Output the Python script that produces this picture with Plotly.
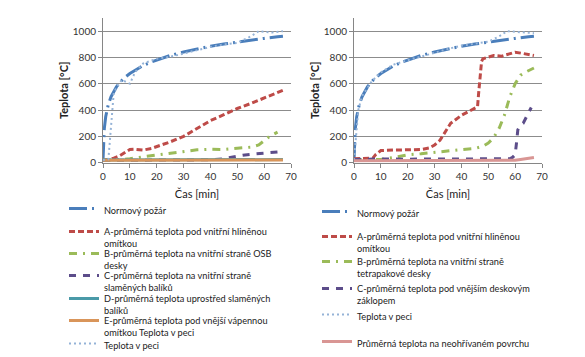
import plotly.graph_objects as go

# ---------------- data ----------------
t_norm = [0, 0.5, 1, 1.5, 2, 3, 4, 5, 6, 8, 10, 12, 15, 18, 20, 25, 30, 35, 40, 45, 50, 55, 60, 65, 67]
norm = [20, 261, 349, 400, 445, 502, 544, 576, 603, 646, 678, 705, 739, 766, 781, 815, 842, 865, 885, 902, 918, 932, 945, 957, 961]

# left chart
tL_peci = [0, 1, 2, 2.5, 3, 3.5, 4, 5, 7, 10, 12, 15, 20, 25, 30, 35, 40, 45, 50, 55, 58, 60, 63, 67]
L_peci = [20, 22, 25, 150, 300, 420, 530, 570, 630, 600, 690, 755, 790, 805, 830, 860, 880, 900, 910, 960, 1000, 995, 990, 1000]
tL_A = [0, 2, 4, 6, 8, 10, 12, 15, 18, 20, 25, 30, 35, 40, 45, 50, 55, 60, 65, 67]
L_A = [20, 22, 35, 50, 75, 100, 102, 96, 108, 122, 158, 200, 262, 320, 365, 412, 450, 490, 535, 550]
tL_B = [0, 5, 10, 12, 15, 20, 25, 30, 35, 40, 45, 50, 55, 58, 60, 62, 65]
L_B = [20, 22, 30, 38, 45, 59, 72, 90, 98, 102, 100, 110, 118, 135, 170, 200, 232]
tL_C = [0, 10, 20, 30, 40, 45, 48, 52, 56, 60, 65, 67]
L_C = [18, 18, 18, 19, 22, 30, 42, 57, 66, 74, 82, 82]
tL_D = [0, 10, 20, 30, 40, 50, 60, 67]
L_D = [20, 20, 20, 21, 22, 22, 23, 24]
tL_E = [0, 10, 20, 30, 40, 50, 60, 67]
L_E = [18, 18, 18, 18, 19, 19, 20, 20]

# right chart
tR_peci = [0, 0.4, 1, 1.6, 2.9, 4.7, 6.6, 9.7, 14.6, 20.8, 25, 30, 35, 40, 45, 50, 54, 57, 60, 63, 67]
R_peci = [20, 122, 280, 400, 504, 555, 618, 682, 745, 784, 805, 835, 865, 890, 905, 920, 960, 1000, 995, 990, 985]
tR_A = [0, 2, 5, 7, 8, 10, 15, 20, 25, 28, 30, 32, 34, 36, 40, 43, 45, 46, 46.5, 47, 47.5, 48, 50, 52, 55, 58, 60, 63, 65, 67]
R_A = [30, 30, 32, 35, 60, 92, 96, 98, 100, 112, 135, 170, 230, 300, 360, 395, 415, 425, 550, 700, 770, 790, 805, 815, 810, 830, 840, 830, 825, 815]
tR_B = [0, 5, 10, 15, 20, 25, 30, 35, 40, 45, 48, 50, 52, 54, 56, 58, 59, 60, 62, 64, 67]
R_B = [20, 20, 25, 40, 60, 68, 80, 88, 100, 108, 125, 150, 190, 260, 360, 500, 550, 600, 665, 690, 720]
tR_C = [0, 5, 10, 20, 30, 40, 50, 55, 58, 59, 60, 60.5, 61, 62, 63, 65, 66]
R_C = [25, 28, 28, 27, 28, 27, 27, 28, 30, 40, 60, 150, 250, 285, 300, 380, 420]
tR_P = [0, 10, 20, 30, 40, 50, 55, 60, 62, 64, 66, 67]
R_P = [15, 15, 15, 15, 15, 15, 16, 18, 25, 32, 38, 40]

x_ticks = [0, 10, 20, 30, 40, 50, 60, 70]
y_ticks = [0, 200, 400, 600, 800, 1000]

names_L = [
    "Normový požár",
    "A-průměrná teplota pod vnitřní hliněnou<br>omítkou",
    "B-průměrná teplota na vnitřní straně OSB<br>desky",
    "C-průměrná teplota na vnitřní straně<br>slaměných balíků",
    "D-průměrná teplota uprostřed slaměných<br>balíků",
    "E-průměrná teplota pod vnější vápennou<br>omítkou Teplota v peci",
    "Teplota v peci",
]
names_R = [
    "Normový požár",
    "A-průměrná teplota pod vnitřní hliněnou<br>omítkou",
    "B-průměrná teplota na vnitřní straně<br>tetrapakové desky",
    "C-průměrná teplota pod vnějším deskovým<br>záklopem",
    "Teplota v peci",
    "Průměrná teplota na neohřívaném povrchu",
]

# ---------------- styles ----------------
C_NORM = "#4a7ebb"
C_PECI = "#95b3d7"
C_A = "#be4b48"
C_B = "#9bbb59"
C_C = "#5c4d8a"
C_D = "#4a9aa8"
C_E = "#d9955a"
C_P = "#d99694"

D_NORM = "18px,5px,2px,5px"
D_A = "6px,3px"
D_B = "8px,6px,2px,6px"
D_C = "7px,7px"
D_PECI = "2px,3px"

FONT = "Lato"
W, H = 585, 357

# legend item positions (pixel row of the first text line, pixel column of the text)
legL_rows = [209, 232, 254, 276, 299, 321, 344]
legR_rows = [212, 237, 262, 289, 315, 342]
legL_col = 104
legR_col = 357

fig = go.Figure()
legends = {}
counter = [0]

def add(x, y, name, color, dash, width, xa, ya, row, col, fsize):
    counter[0] += 1
    lid = "legend" if counter[0] == 1 else "legend%d" % counter[0]
    fig.add_trace(go.Scatter(
        x=x, y=y, name=name, mode="lines",
        line=dict(color=color, dash=dash, width=width),
        xaxis=xa, yaxis=ya, legend=lid,
    ))
    legends[lid] = dict(
        x=(col - 40) / W, xanchor="left",
        y=1 - (row - 13) / H, yanchor="top",
        valign="top", traceorder="normal",
        font=dict(family=FONT, size=fsize, color="#222222"),
        bgcolor="rgba(0,0,0,0)", itemwidth=30,
    )

FS = 9.2
# left
add(t_norm, norm, names_L[0], C_NORM, D_NORM, 3, "x", "y", legL_rows[0], legL_col, FS)
add(tL_A, L_A, names_L[1], C_A, D_A, 3, "x", "y", legL_rows[1], legL_col, FS)
add(tL_B, L_B, names_L[2], C_B, D_B, 3, "x", "y", legL_rows[2], legL_col, FS)
add(tL_C, L_C, names_L[3], C_C, D_C, 3, "x", "y", legL_rows[3], legL_col, FS)
add(tL_D, L_D, names_L[4], C_D, "solid", 3, "x", "y", legL_rows[4], legL_col, FS)
add(tL_E, L_E, names_L[5], C_E, "solid", 3, "x", "y", legL_rows[5], legL_col, FS)
add(tL_peci, L_peci, names_L[6], C_PECI, D_PECI, 2, "x", "y", legL_rows[6], legL_col, FS)

# right
add(t_norm, norm, names_R[0], C_NORM, D_NORM, 3, "x2", "y2", legR_rows[0], legR_col, FS)
add(tR_A, R_A, names_R[1], C_A, D_A, 3, "x2", "y2", legR_rows[1], legR_col, FS)
add(tR_B, R_B, names_R[2], C_B, D_B, 3, "x2", "y2", legR_rows[2], legR_col, FS)
add(tR_C, R_C, names_R[3], C_C, D_C, 3, "x2", "y2", legR_rows[3], legR_col, FS)
add(tR_peci, R_peci, names_R[4], C_PECI, D_PECI, 2, "x2", "y2", legR_rows[4], legR_col, FS)
add(tR_P, R_P, names_R[5], C_P, "solid", 3, "x2", "y2", legR_rows[5], legR_col, FS)

axis_common = dict(
    showline=True, linecolor="#868686", linewidth=1,
    ticks="outside", ticklen=4, tickcolor="#868686",
    tickfont=dict(family=FONT, size=10, color="#333333"),
    zeroline=False, automargin=False,
)

xa = dict(axis_common, range=[0, 70], tickvals=x_ticks, showgrid=False,
          title=dict(text="Čas [min]", font=dict(family=FONT, size=11, color="#222222"), standoff=9))
ya = dict(axis_common, range=[0, 1100], tickvals=y_ticks, showgrid=True,
          gridcolor="#8c8c8c", gridwidth=1,
          title=dict(text="<b>Teplota [°C]</b>", font=dict(family=FONT, size=11, color="#222222"), standoff=1))

y_dom = [1 - 162.7 / H, 1 - 18 / H]

fig.update_layout(
    width=W, height=H,
    margin=dict(l=0, r=0, t=0, b=0, autoexpand=False),
    paper_bgcolor="white", plot_bgcolor="white",
    font=dict(family=FONT, size=10, color="#222222"),
    xaxis=dict(xa, domain=[103 / W, 291 / W], anchor="y"),
    yaxis=dict(ya, domain=y_dom, anchor="x"),
    xaxis2=dict(xa, domain=[354 / W, 542 / W], anchor="y2"),
    yaxis2=dict(ya, domain=y_dom, anchor="x2"),
    showlegend=True,
    **legends,
)

fig.write_html(
    "out.html",
    config={"displayModeBar": False},
    post_script="document.body.style.margin='0px';document.body.style.overflow='hidden';",
)
